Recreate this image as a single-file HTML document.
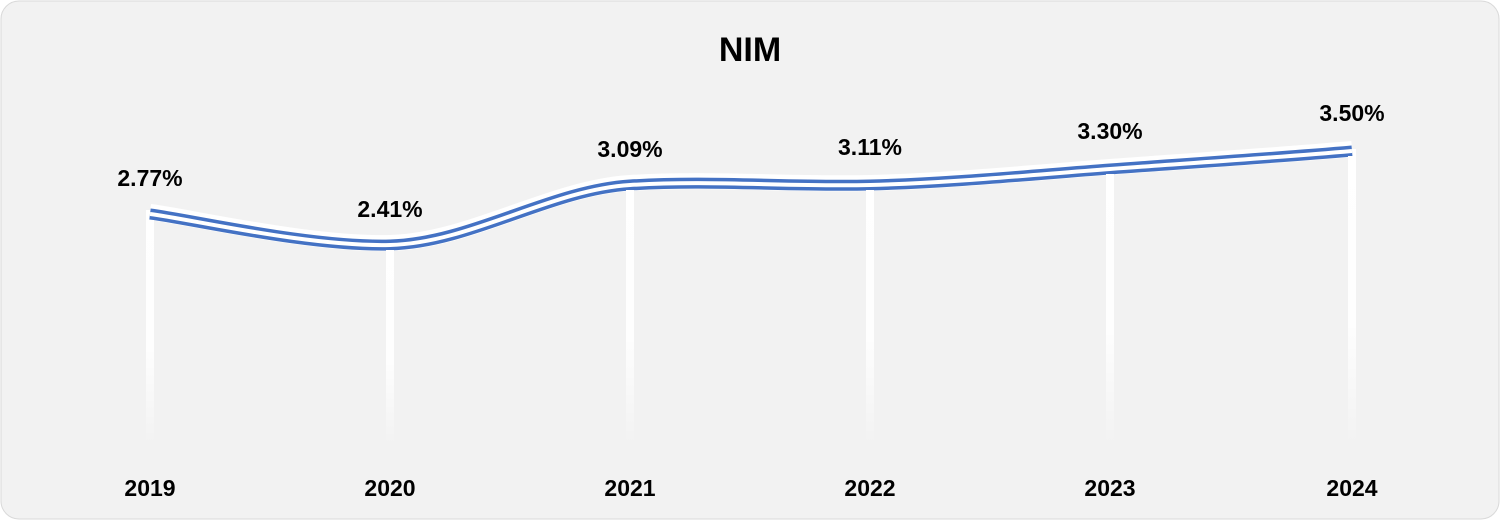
<!DOCTYPE html>
<html><head><style>
body{margin:0;background:#fff;width:1500px;height:520px;overflow:hidden}
</style></head><body>
<svg width="1500" height="520" xmlns="http://www.w3.org/2000/svg" font-family="Liberation Sans, sans-serif">
<defs>
<linearGradient id="g" x1="0" y1="0" x2="0" y2="1">
<stop offset="0" stop-color="#fff" stop-opacity="1"/>
<stop offset="0.6" stop-color="#fff" stop-opacity="0.9"/>
<stop offset="1" stop-color="#fff" stop-opacity="0"/>
</linearGradient>
</defs>
<rect x="1" y="1" width="1498" height="518" rx="18" fill="#f2f2f2" stroke="#d9d9d9"/>
<text x="750" y="61" text-anchor="middle" font-size="34" font-weight="bold" fill="#000">NIM</text>
<g fill="url(#g)">
<rect x="146" y="210" width="8" height="235"/>
<rect x="386" y="242" width="8" height="203"/>
<rect x="626" y="183" width="8" height="262"/>
<rect x="866" y="183" width="8" height="262"/>
<rect x="1106" y="167" width="8" height="278"/>
<rect x="1348" y="149" width="8" height="296"/>
</g>
<g fill="none" stroke-linecap="butt">
<path d="M150,214 C190,219 310,247 390,245 C470,243 550,190 630,185 C710,180 790,187 870,185 C950,183 1030,175 1110,169 C1190,163 1272,158 1352,151" stroke="#fff" stroke-width="16" transform="translate(0,-2)"/>
<path d="M150,214 C190,219 310,247 390,245 C470,243 550,190 630,185 C710,180 790,187 870,185 C950,183 1030,175 1110,169 C1190,163 1272,158 1352,151" stroke="#4472c4" stroke-width="11"/>
<path d="M150,214 C190,219 310,247 390,245 C470,243 550,190 630,185 C710,180 790,187 870,185 C950,183 1030,175 1110,169 C1190,163 1272,158 1352,151" stroke="#fff" stroke-width="4"/>
</g>
<g fill="#fff">
<rect x="146" y="220" width="8" height="10"/>
<rect x="386" y="250" width="8" height="10"/>
<rect x="626" y="190" width="8" height="10"/>
<rect x="866" y="190" width="8" height="10"/>
<rect x="1106" y="174" width="8" height="10"/>
<rect x="1348" y="156" width="8" height="10"/>
</g>
<g font-size="23" font-weight="bold" fill="#000" text-anchor="middle">
<text x="150" y="186">2.77%</text>
<text x="390" y="217">2.41%</text>
<text x="630" y="157">3.09%</text>
<text x="870" y="155">3.11%</text>
<text x="1110" y="139">3.30%</text>
<text x="1352" y="121">3.50%</text>
<text x="150" y="496">2019</text>
<text x="390" y="496">2020</text>
<text x="630" y="496">2021</text>
<text x="870" y="496">2022</text>
<text x="1110" y="496">2023</text>
<text x="1352" y="496">2024</text>
</g>
</svg>
</body></html>
